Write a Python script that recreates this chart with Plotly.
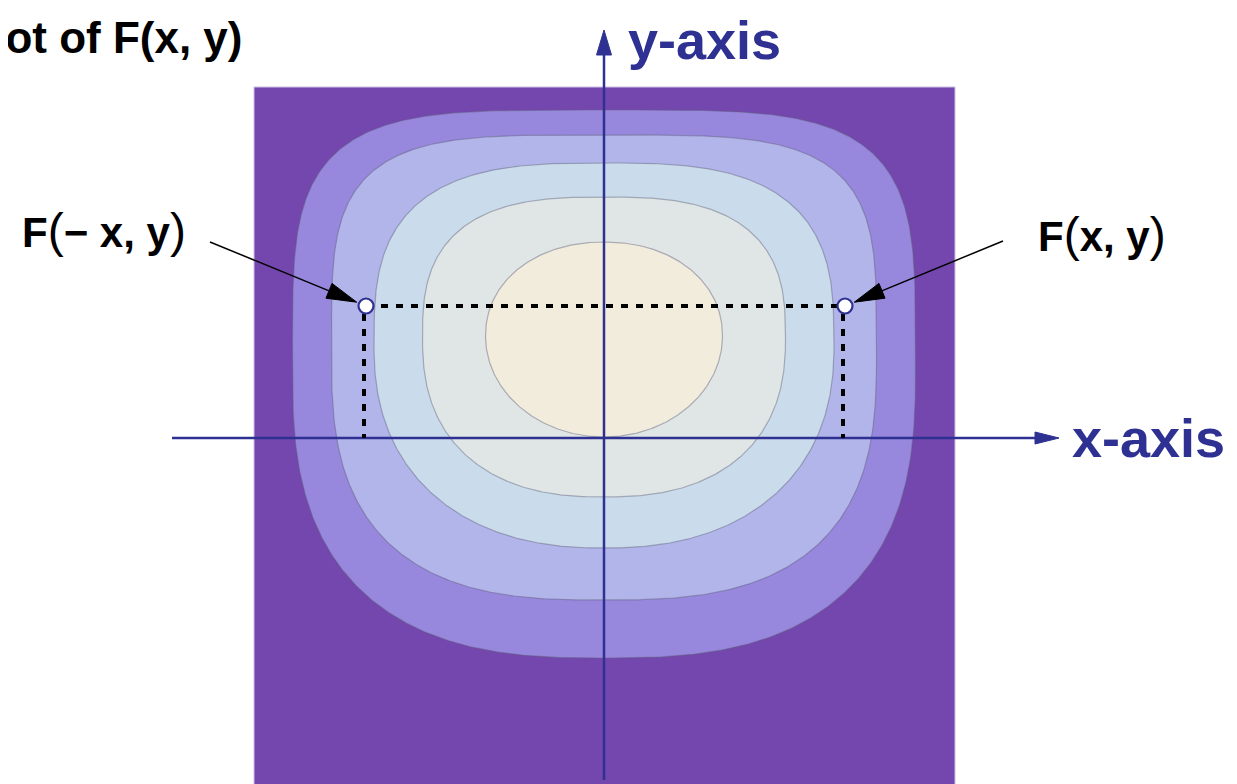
import numpy as np
import plotly.graph_objects as go

# ---------------- data ----------------
# contour levels of F(x, y), innermost first
level_half_width = [1.185, 1.815, 2.30, 2.725, 3.115]
level_widest_y   = [1.02, 1.00, 0.93, 0.86, 0.70]
level_top        = [1.96, 2.41, 2.75, 3.03, 3.28]
level_bottom     = [0.01, -0.59, -1.10, -1.62, -2.20]
level_n_top      = [2.1, 2.8, 3.0, 4.0, 4.2]
level_n_bottom   = [2.0, 2.4, 2.3, 2.8, 2.7]
level_colors     = ["#F2ECDD", "#E0E6E6", "#CADCEB", "#B2B5EA", "#9787DD"]
background_color = "#7447AE"
domain_x = [-3.50, 3.51]
domain_y = [-3.60, 3.51]

# symmetric points F(-x, y) and F(x, y)
point_x = [-2.38, 2.41]
point_y = [1.32, 1.32]
PAREN = "<span style='font-size:48px;font-weight:normal'>%s</span>"
point_labels = ["<b>F</b>" + PAREN % "(" + "<b>− x, y</b>" + PAREN % ")",
                "<b>F</b>" + PAREN % "(" + "<b>x, y</b>" + PAREN % ")"]
label_pos_x = [-5.00, 4.98]
label_pos_y = [2.08, 2.04]
arrow_tail_x = [-3.94, 3.99]
arrow_tail_y = [1.96, 1.97]

# axes (arrow lines)
x_axis_span = [-4.32, 4.55]
y_axis_span = [-3.42, 4.08]

AXIS_BLUE = "#2E3192"
FONT = "Liberation Sans"

fig = go.Figure()

# background of the contour plot
fig.add_trace(go.Scatter(
    x=[domain_x[0], domain_x[1], domain_x[1], domain_x[0], domain_x[0]],
    y=[domain_y[0], domain_y[0], domain_y[1], domain_y[1], domain_y[0]],
    mode="lines", fill="toself", fillcolor=background_color,
    line=dict(color="#CDBFE3", width=1), hoverinfo="skip"))


def level_curve(hw, yc, top, bottom, n_top, n_bot, npts=600):
    t = np.linspace(0, 2 * np.pi, npts)
    c, s = np.cos(t), np.sin(t)
    n = np.where(s >= 0, n_top, n_bot)
    h = np.where(s >= 0, top - yc, yc - bottom)
    xs = hw * np.sign(c) * np.abs(c) ** (2 / n)
    ys = yc + h * np.sign(s) * np.abs(s) ** (2 / n)
    return xs, ys


# filled contour bands, outermost first
for i in reversed(range(len(level_half_width))):
    xs, ys = level_curve(level_half_width[i], level_widest_y[i], level_top[i],
                         level_bottom[i], level_n_top[i], level_n_bottom[i])
    fig.add_trace(go.Scatter(
        x=xs, y=ys, mode="lines", fill="toself", fillcolor=level_colors[i],
        line=dict(color="rgba(95,95,120,0.45)", width=1.2), hoverinfo="skip"))


def triangle(tip_x, tip_y, from_x, from_y, length, half_w):
    d = np.array([tip_x - from_x, tip_y - from_y], dtype=float)
    d /= np.hypot(*d)
    p = np.array([-d[1], d[0]])
    base = np.array([tip_x, tip_y]) - d * length
    a = base + p * half_w
    b = base - p * half_w
    return [tip_x, a[0], b[0], tip_x], [tip_y, a[1], b[1], tip_y]


# coordinate axes with arrowheads
fig.add_trace(go.Scatter(x=[x_axis_span[0], x_axis_span[1] - 0.2], y=[0, 0], mode="lines",
                         line=dict(color=AXIS_BLUE, width=2.5), hoverinfo="skip"))
fig.add_trace(go.Scatter(x=[0, 0], y=[y_axis_span[0], y_axis_span[1] - 0.2], mode="lines",
                         line=dict(color=AXIS_BLUE, width=2.5), hoverinfo="skip"))
tx, ty = triangle(x_axis_span[1], 0, 0, 0, 0.24, 0.06)
fig.add_trace(go.Scatter(x=tx, y=ty, mode="lines", fill="toself", fillcolor=AXIS_BLUE,
                         line=dict(color=AXIS_BLUE, width=1), hoverinfo="skip"))
tx, ty = triangle(0, y_axis_span[1], 0, 0, 0.25, 0.075)
fig.add_trace(go.Scatter(x=tx, y=ty, mode="lines", fill="toself", fillcolor=AXIS_BLUE,
                         line=dict(color=AXIS_BLUE, width=1), hoverinfo="skip"))

# dotted guide lines
fig.add_trace(go.Scatter(x=[point_x[0], point_x[1]], y=[point_y[0], point_y[1]], mode="lines",
                         line=dict(color="black", width=4, dash="7px,8px"), hoverinfo="skip"))
for px, py in zip(point_x, point_y):
    fig.add_trace(go.Scatter(x=[px - 0.02, px - 0.02], y=[py - 0.08, 0],
                             mode="lines", line=dict(color="black", width=4, dash="7px,8px"),
                             hoverinfo="skip"))

# pointer arrows
for i in range(2):
    d = np.array([point_x[i] - arrow_tail_x[i], point_y[i] - arrow_tail_y[i]])
    d /= np.hypot(*d)
    tipx = point_x[i] - d[0] * 0.10
    tipy = point_y[i] - d[1] * 0.10
    fig.add_trace(go.Scatter(x=[arrow_tail_x[i], tipx - d[0] * 0.2], y=[arrow_tail_y[i], tipy - d[1] * 0.2],
                             mode="lines", line=dict(color="black", width=1.5), hoverinfo="skip"))
    tx, ty = triangle(tipx, tipy, arrow_tail_x[i], arrow_tail_y[i], 0.30, 0.08)
    fig.add_trace(go.Scatter(x=tx, y=ty, mode="lines", fill="toself", fillcolor="black",
                             line=dict(color="black", width=1), hoverinfo="skip"))
    fig.add_annotation(x=label_pos_x[i], y=label_pos_y[i], text=point_labels[i], showarrow=False,
                       font=dict(family=FONT, size=42, color="black"), xanchor="center", yanchor="middle")

# points
fig.add_trace(go.Scatter(x=point_x, y=point_y, mode="markers",
                         marker=dict(size=15, color="white", line=dict(color=AXIS_BLUE, width=2.2)),
                         hoverinfo="skip"))

# axis labels
fig.add_annotation(x=4.66, y=0.0, text="<b>x-axis</b>", showarrow=False, xanchor="left", yanchor="middle",
                   font=dict(family=FONT, size=54, color=AXIS_BLUE))
fig.add_annotation(x=0.22, y=3.98, text="<b>y-axis</b>", showarrow=False, xanchor="left", yanchor="middle",
                   font=dict(family=FONT, size=54, color=AXIS_BLUE))

# title (partly outside the page on the left, as in the reference)
fig.add_annotation(x=236 / 1237, y=1 - 30 / 784, xref="paper", yref="paper",
                   text="<b>Contour plot of F(x, y)</b>",
                   showarrow=False, xanchor="right", yanchor="middle",
                   font=dict(family=FONT, size=44, color="black"))

# the page is shown with an 8 px body margin: shift ranges so marks land where the reference has them
fig.update_layout(
    width=1237, height=784, margin=dict(l=0, r=0, t=0, b=0),
    paper_bgcolor="white", plot_bgcolor="white", showlegend=False,
    xaxis=dict(range=[-5.96, 6.41], visible=False, fixedrange=True),
    yaxis=dict(range=[-3.54, 4.30], visible=False, fixedrange=True),
)

fig.write_html("out.html")
